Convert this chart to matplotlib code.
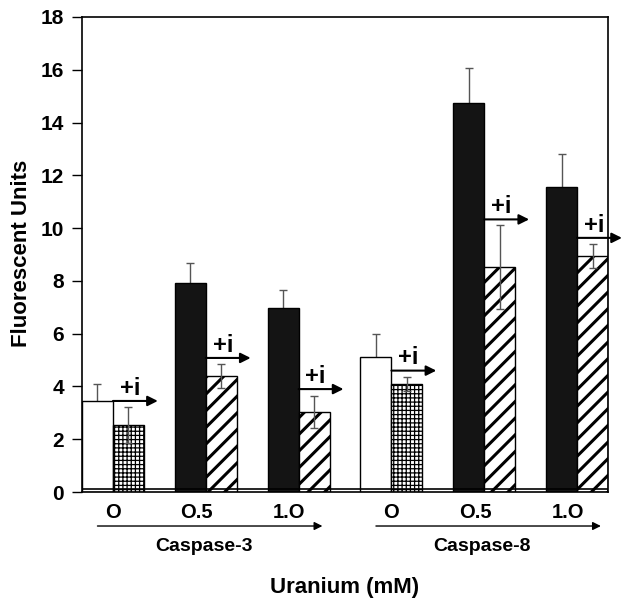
import numpy as np
import matplotlib
matplotlib.use('Agg')
import matplotlib.pyplot as plt
import matplotlib.transforms as mtransforms

plt.rcParams['font.family'] = ['Liberation Sans', 'DejaVu Sans']
plt.rcParams['font.weight'] = 'bold'
plt.rcParams['hatch.linewidth'] = 2.2

# 数据
dose_labels = ['O', 'O.5', '1.O', 'O', 'O.5', '1.O']
group_names = ['Caspase-3', 'Caspase-8']
# 未加抑制剂
control_vals = [3.45, 7.92, 6.97, 5.11, 14.73, 11.56]
control_err = [0.66, 0.75, 0.68, 0.86, 1.35, 1.24]
# +i (抑制剂)
inhib_vals = [2.54, 4.40, 3.03, 4.09, 8.53, 8.94]
inhib_err = [0.67, 0.44, 0.61, 0.26, 1.60, 0.47]
# "+i" 箭头高度
arrow_levels = [3.45, 5.08, 3.90, 4.60, 10.33, 9.63]

fig = plt.figure(figsize=(6.28, 6.10), dpi=100)
ax = fig.add_axes([82 / 628, 1 - 492 / 610, 526 / 628, 475 / 610])

starts = np.array([0, 3, 6, 9, 12, 15])
w = 1.0

for i, s in enumerate(starts):
    zero = dose_labels[i] == 'O'
    ax.bar(s + 0.5, control_vals[i], w, color='white' if zero else '#141414',
           edgecolor='black', linewidth=1.0, zorder=2)
    bars = ax.bar(s + 1.5, inhib_vals[i], w, color='white', edgecolor='black',
                  hatch='++++' if zero else '//', linewidth=1.0, zorder=2)
    if zero:
        try:
            bars[0].set_hatch_linewidth(0.9)
        except AttributeError:
            pass
    ax.errorbar(s + 0.5, control_vals[i], yerr=control_err[i], color='#555555',
                lw=1.0, capsize=3, capthick=1.0, zorder=1)
    ax.errorbar(s + 1.5, inhib_vals[i], yerr=inhib_err[i], color='#555555',
                lw=1.0, capsize=3, capthick=1.0, zorder=3)
    # +i 箭头
    ax.annotate('', xy=(s + 2.45, arrow_levels[i]), xytext=(s + 1.0, arrow_levels[i]),
                arrowprops=dict(arrowstyle='-|>', lw=1.5, color='black',
                                mutation_scale=15, shrinkA=0, shrinkB=0),
                annotation_clip=False, zorder=4)
    ax.text(s + 1.55, arrow_levels[i] + 0.05, '+i', ha='center', va='bottom',
            fontsize=17, fontweight='bold', zorder=4)

ax.axhline(0.1, color='black', lw=1.2, zorder=3)

ax.set_xlim(0, 17)
ax.set_ylim(0, 18)
ax.set_yticks(np.arange(0, 19, 2))
ax.tick_params(axis='y', direction='out', length=7, width=1, pad=6, labelsize=15)
ax.set_xticks(starts + 1 - np.array([0 if l == 'O' else 0.3 for l in dose_labels]))
ax.set_xticklabels(dose_labels, fontsize=14.5, fontweight='bold')
ax.tick_params(axis='x', length=0, pad=8)
for sp in ax.spines.values():
    sp.set_linewidth(1.2)

# 下方分组箭头
trans = mtransforms.blended_transform_factory(ax.transData, ax.transAxes)
for g, (x0, x1) in enumerate([(0.5, 7.77), (9.5, 16.77)]):
    ax.annotate('', xy=(x1, -0.0716), xytext=(x0, -0.0716), xycoords=trans,
                textcoords=trans,
                arrowprops=dict(arrowstyle='-|>', lw=1.0, color='black',
                                mutation_scale=12, shrinkA=0, shrinkB=0),
                annotation_clip=False)
    ax.text((x0 + x1) / 2 - 0.2, -0.114, group_names[g], transform=trans,
            ha='center', va='center', fontsize=14, fontweight='bold')

fig.text(345 / 628, 1 - 587 / 610, 'Uranium (mM)', ha='center', va='center',
         fontsize=16, fontweight='bold')
fig.text(22 / 628, 1 - 253 / 610, 'Fluorescent Units', ha='center', va='center',
         rotation=90, fontsize=16, fontweight='bold')

fig.savefig('out.png', dpi=100)
